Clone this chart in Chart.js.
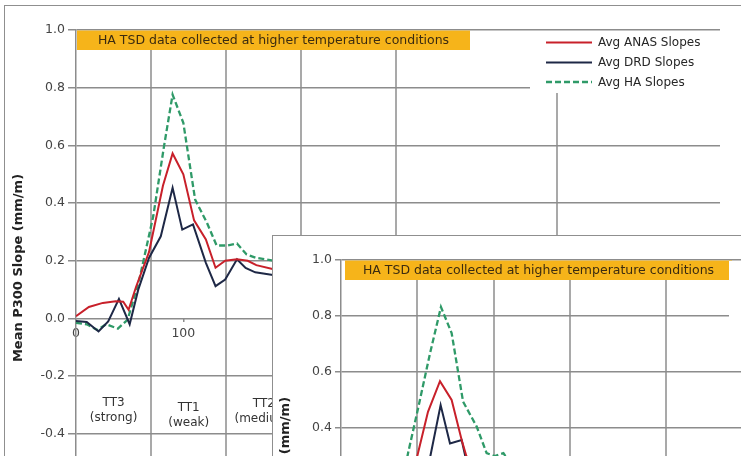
<!DOCTYPE html>
<html>
<head>
<meta charset="utf-8">
<script src="https://cdn.jsdelivr.net/npm/chart.js@4.4.1/dist/chart.umd.min.js"></script>
<style>
  html, body { margin: 0; padding: 0; background: #fff; overflow: hidden; width: 741px; height: 456px; }
  #wrap { position: relative; width: 741px; height: 456px; overflow: hidden; }
  .frame { position: absolute; border: 1px solid #8f8f8f; background: #fff; }
  #mainFrame { left: 4px; top: 5px; width: 800px; height: 600px; }
  #insetFrame { left: 272px; top: 235px; width: 800px; height: 600px; }
  canvas { position: absolute; left: 0; top: 0; }
</style>
</head>
<body>
<div id="wrap">
  <div class="frame" id="mainFrame"></div>
  <canvas id="mainChart" width="741" height="560"></canvas>
  <div class="frame" id="insetFrame">
    <canvas id="insetChart" width="760" height="540"></canvas>
  </div>
</div>
<script>
// ---- Series: mean P300 slope (mm/m) along the route ----
const seriesNames = ['Avg ANAS Slopes', 'Avg DRD Slopes', 'Avg HA Slopes'];

// upper panel
const anasX = [0, 12, 25, 37, 44, 49, 56, 68, 81, 90, 100, 110, 121, 130, 139, 150, 160, 168, 185];
const anasY = [0.008, 0.04, 0.054, 0.06, 0.058, 0.03, 0.11, 0.23, 0.46, 0.572, 0.50, 0.34, 0.274, 0.176, 0.2, 0.205, 0.2, 0.185, 0.17];
const drdX  = [0, 10, 21, 30, 40, 50, 58, 68, 79, 90, 99, 109, 121, 130, 139, 150, 158, 167, 185];
const drdY  = [-0.009, -0.012, -0.045, -0.01, 0.068, -0.02, 0.1, 0.21, 0.285, 0.453, 0.308, 0.326, 0.193, 0.112, 0.135, 0.205, 0.175, 0.16, 0.15];
const haX   = [0, 10, 20, 28, 39, 48, 59, 72, 82, 90, 100, 111, 122, 131, 141, 150, 159, 168, 185];
const haY   = [-0.015, -0.02, -0.04, -0.02, -0.035, -0.005, 0.135, 0.355, 0.597, 0.776, 0.678, 0.412, 0.332, 0.253, 0.253, 0.26, 0.222, 0.21, 0.2];

// lower panel
const anas2X = [64, 70.6, 79.8, 90.8, 101.5, 110.7, 115, 122];
const anas2Y = [0.2, 0.31, 0.458, 0.567, 0.50, 0.357, 0.30, 0.24];
const drd2X  = [76, 82, 91.4, 100, 110.7, 114, 118];
const drd2Y  = [0.19, 0.30, 0.482, 0.345, 0.357, 0.30, 0.22];
const ha2X   = [56, 61.5, 70.6, 81.7, 91.7, 101.5, 112, 124.5, 133.6, 141, 149, 156];
const ha2Y   = [0.2, 0.31, 0.468, 0.667, 0.832, 0.739, 0.494, 0.405, 0.31, 0.30, 0.31, 0.27];

// test-track zones along the x axis
const zoneBounds = [70, 140, 210, 298, 448];
const zoneNames  = ['TT3', 'TT1', 'TT2'];
const zoneNotes  = ['(strong)', '(weak)', '(medium)'];
const zoneEdges  = [0, 70, 140, 210];

const bannerText = 'HA TSD data collected at higher temperature conditions';
const yTitle = 'Mean P300 Slope (mm/m)';

const FONT = 'DejaVu Sans';
const COLORS = ['#c8202a', '#1e2846', '#2f9a68'];
const GRID = '#8c8c8c';

const pts = (xs, ys) => xs.map((x, i) => ({ x, y: ys[i] }));

function makeDatasets(sets) {
  return sets.map((s, i) => ({
    label: seriesNames[i],
    data: pts(s[0], s[1]),
    borderColor: COLORS[i],
    borderWidth: i === 2 ? 2.3 : 2,
    borderDash: i === 2 ? [6, 3] : [],
    pointRadius: 0,
    tension: 0,
    fill: false
  }));
}

// draws zone dividers, the orange banner, legend box and zone captions
const overlay = {
  id: 'overlay',
  beforeDatasetsDraw(chart, args, o) {
    const { ctx, chartArea: a, scales: { x, y } } = chart;
    ctx.save();
    // zone dividers
    ctx.strokeStyle = GRID;
    ctx.lineWidth = 1.5;
    zoneBounds.forEach(v => {
      const px = Math.round(x.getPixelForValue(v));
      ctx.beginPath();
      ctx.moveTo(px, a.top + 20);
      ctx.lineTo(px, a.bottom);
      ctx.stroke();
    });
    // banner
    ctx.fillStyle = '#f6b41a';
    ctx.fillRect(a.left + o.bannerX, a.top + 0.5, o.bannerW, 19.5);
    ctx.fillStyle = '#3b2b10';
    ctx.font = '12.5px "' + FONT + '"';
    ctx.textAlign = 'center';
    ctx.textBaseline = 'middle';
    ctx.fillText(bannerText, a.left + o.bannerX + o.bannerW / 2, a.top + 10.5);
    // legend
    const lx = a.left + o.legendX;
    ctx.fillStyle = '#fff';
    ctx.fillRect(lx, a.top + 1, 400, 62);
    const rows = [12.5, 32.5, 52];
    chart.data.datasets.forEach((ds, i) => {
      const ry = a.top + rows[i];
      ctx.strokeStyle = ds.borderColor;
      ctx.lineWidth = ds.borderWidth;
      ctx.setLineDash(ds.borderDash || []);
      ctx.beginPath();
      ctx.moveTo(lx + 16, ry);
      ctx.lineTo(lx + 62, ry);
      ctx.stroke();
      ctx.setLineDash([]);
      ctx.fillStyle = '#262626';
      ctx.font = '12px "' + FONT + '"';
      ctx.textAlign = 'left';
      ctx.textBaseline = 'middle';
      ctx.fillText(ds.label, lx + 68, ry + 0.5);
    });
    // zone captions
    if (o.captions) {
      const base = y.getPixelForValue(-0.4);
      const shift = [0, 5, 1];
      ctx.fillStyle = '#333';
      ctx.font = '12px "' + FONT + '"';
      ctx.textAlign = 'center';
      ctx.textBaseline = 'middle';
      zoneNames.forEach((n, i) => {
        const cx = (x.getPixelForValue(zoneEdges[i]) + x.getPixelForValue(zoneEdges[i + 1])) / 2;
        ctx.fillText(n, cx, base - 31 + shift[i]);
        ctx.fillText(zoneNotes[i], cx, base - 16 + shift[i]);
      });
    }
    ctx.restore();
  }
};

function makeChart(id, sets, cfg) {
  return new Chart(document.getElementById(id), {
    type: 'line',
    data: { datasets: makeDatasets(sets) },
    plugins: [overlay],
    options: {
      responsive: false,
      animation: false,
      devicePixelRatio: 1,
      layout: { padding: cfg.padding },
      plugins: {
        legend: { display: false },
        tooltip: { enabled: false },
        overlay: cfg.overlay
      },
      scales: {
        x: {
          type: 'linear',
          position: { y: 0 },
          min: 0, max: 600,
          ticks: { stepSize: 100, color: '#444', font: { family: FONT, size: 12.5 }, padding: 4, maxRotation: 0 },
          grid: { drawOnChartArea: false, drawTicks: true, tickLength: 4, color: GRID, lineWidth: 1.5 },
          border: { display: false }
        },
        y: {
          min: -0.65, max: 1.0,
          ticks: {
            stepSize: 0.2, color: '#444', padding: 3,
            font: { family: FONT, size: 12.5 },
            callback: v => v.toFixed(1)
          },
          grid: { color: GRID, lineWidth: 1.5, tickLength: cfg.tickLen },
          border: { color: GRID, width: 1.5 },
          title: {
            display: true, text: yTitle, color: '#222',
            font: { family: FONT, size: 13, weight: 'bold' },
            padding: { top: cfg.titlePad, bottom: 0 }
          },
          afterFit(s) { s.width = cfg.axisW; }
        }
      }
    }
  });
}

makeChart('mainChart', [[anasX, anasY], [drdX, drdY], [haX, haY]], {
  padding: { left: 0, top: 30, right: 21, bottom: 54 },
  tickLen: 8, axisW: 76, titlePad: 11,
  overlay: { bannerX: 1, bannerW: 393, legendX: 454, captions: true }
});

makeChart('insetChart', [[anas2X, anas2Y], [drd2X, drd2Y], [ha2X, ha2Y]], {
  padding: { left: 0, top: 24, right: 38, bottom: 54 },
  tickLen: 6, axisW: 68, titlePad: 5,
  overlay: { bannerX: 4, bannerW: 387, legendX: 388, captions: false }
});
</script>
</body>
</html>
